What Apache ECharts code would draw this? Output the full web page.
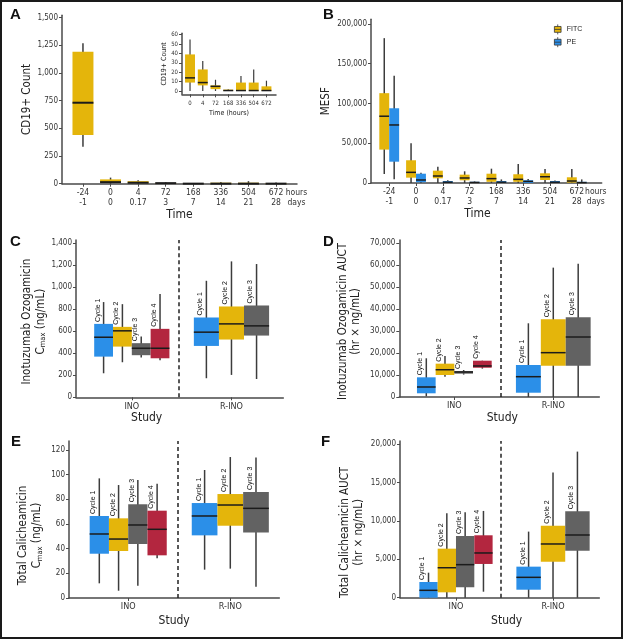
<!DOCTYPE html>
<html><head><meta charset="utf-8">
<script src="https://cdn.jsdelivr.net/npm/echarts@6/dist/echarts.min.js"></script>
<style>html,body{margin:0;padding:0;background:#fff}#c{width:623px;height:639px}</style>
</head><body><div id="c"></div>
<script>
// ---------------- DATA ----------------
// box summaries are [min, q1, median, q3, max]
const timeHours = ['-24','0','4','72','168','336','504','672'];
const timeDays  = ['-1','0','0.17','3','7','14','21','28'];
const unitLabel = 'hours\ndays';
const cd19Count = [[334,440,731,1191,1267],[0,9,14,39,55],[0,6,9,23,32],[0,2,5,6,12],[0,0,0.5,1.5,2],[0,0,0.5,9,16],[0,0,0.5,9,23],[0,0,0.5,5,11]];
const insetHours = ['0','4','72','168','336','504','672'];
const insetCount = [[0,9,14,39,55],[0,6,9,23,32],[0,2,5,6,12],[0,0,0.5,1.5,2],[0,0,0.5,9,16],[0,0,0.5,9,23],[0,0,0.5,5,11]];
const mesfFITC = [[11300,42000,84000,113000,182200],[0,6700,13400,28600,50000],[0,5900,8800,15500,20500],[0,3400,6300,10500,14700],[0,1500,5500,11700,18000],[0,1500,4600,11000,23900],[0,3800,7900,12200,17600],[0,500,2500,7200,17600]];
const mesfPE   = [[4600,26800,73000,94000,134800],[0,1000,3800,11700,13000],[0,0,1000,2500,3500],[0,0,700,1500,2000],[0,0,1000,2500,4500],[0,0,2000,3500,5000],[0,0,1000,2500,3000],[0,0,500,1500,4500]];
const studies = ['INO','R-INO'];
const cycleNames = ['Cycle 1','Cycle 2','Cycle 3','Cycle 4'];
const inoCmaxINO  = [[218,369,545,666,864],[318,460,603,639,845],[360,382,445,491,551],[336,354,445,621,936]];
const inoCmaxRINO = [[173,466,591,724,1057],[203,524,666,824,1233],[166,560,648,833,1209]];
const inoAucINO   = [[300,1680,4550,8950,17600],[9200,10000,12400,15150,18600],[10200,10600,11360,11800,12270],[12900,13300,14100,16500,16500]];
const inoAucRINO  = [[0,1950,9230,14550,33500],[0,14230,20150,35300,58800],[0,14230,27270,36200,60600]];
const calCmaxINO  = [[11.9,35.9,51.9,66.5,97],[5.9,38.1,47.8,64.6,91.6],[10,43.8,59.2,76,95.7],[32.2,34.6,55.7,70.8,92.7]];
const calCmaxRINO = [[23,50.8,66.5,77,103.8],[23.8,58.6,75.4,84.3,114.3],[9.2,53.2,72.7,85.9,114]];
const calAucINO   = [[0,0,960,2045,3255],[0,700,3900,6380,10990],[0,1350,4300,8030,11120],[780,4390,5820,8120,11290]];
const calAucRINO  = [[0,1040,2650,4040,8600],[0,4690,6990,9375,16280],[0,6120,8160,11250,19010]];
const ticksA = [0,250,500,750,1000,1250,1500];
const ticksInset = [0,10,20,30,40,50,60];
const ticksB = [0,50000,100000,150000,200000];
const ticksC = [0,200,400,600,800,1000,1200,1400];
const ticksD = [0,10000,20000,30000,40000,50000,60000,70000];
const ticksE = [0,20,40,60,80,100,120];
const ticksF = [0,5000,10000,15000,20000];

// ---------------- STYLE ----------------
const FONT = '"DejaVu Sans Condensed","Liberation Sans Narrow",sans-serif';
const FONT_R = '"Liberation Sans",Arial,sans-serif';
const AX = '#4a4a4a', TXT = '#333';
const GOLD = '#E4B50B', BLUE = '#2B8FE8', GRAY = '#626262', RED = '#B3263F';
const cycleColors = [BLUE, GOLD, GRAY, RED];
const GW = 0.755;
const NAME_FS = 11.5;

function fmt(v){ return Number(v).toLocaleString('en-US'); }

function makeRender(colors, opt){
  return function(params, api){
    const xc = api.value(0), bw = api.value(1);
    const x0 = xc - bw/2, x1 = xc + bw/2;
    const pMax = api.coord([xc, api.value(6)]), pMin = api.coord([xc, api.value(2)]);
    const pQ3 = api.coord([x0, api.value(5)]), pQ1 = api.coord([x1, api.value(3)]);
    const m0 = api.coord([x0, api.value(4)]), m1 = api.coord([x1, api.value(4)]);
    const ci = api.value(7), li = api.value(8);
    const ch = [
      {type:'line', shape:{x1:pMax[0], y1:pMax[1], x2:pMin[0], y2:pMin[1]}, style:{stroke:'#3c3c3c', lineWidth:opt.wl}},
      {type:'rect', shape:{x:pQ3[0], y:pQ3[1], width:pQ1[0]-pQ3[0], height:Math.max(pQ1[1]-pQ3[1],0)}, style:{fill:colors[ci]}},
      {type:'line', shape:{x1:m0[0], y1:m0[1], x2:m1[0], y2:m1[1]}, style:{stroke:'#1b1b1b', lineWidth:opt.ml}}
    ];
    if (li >= 0) {
      ch.push({type:'text', x:pMax[0]-6, y:pQ3[1]-2, rotation:Math.PI/2,
        style:{text:cycleNames[li], fontSize:7, fontFamily:FONT_R, fill:'#111', align:'left', verticalAlign:'middle'}});
    }
    return {type:'group', children:ch};
  };
}

function simpleData(arr, bw, off, ci){
  return arr.map((s,i)=>[i+off, bw, s[0], s[1], s[2], s[3], s[4], ci, -1]);
}
function groupedData(groups){
  const out = [];
  groups.forEach((arr,g)=>{
    const n = arr.length, bw = GW/n;
    arr.forEach((s,c)=>out.push([g - GW/2 + (c+0.5)*bw, bw, s[0], s[1], s[2], s[3], s[4], c, c]));
  });
  return out;
}

function series(name, idx, data, colors, opt, extra){
  return Object.assign({
    type:'custom', name:name, xAxisIndex:idx, yAxisIndex:idx, data:data,
    encode:{x:0, y:[2,3,4,5,6]}, renderItem:makeRender(colors, opt),
    itemStyle:{color:colors[0]}, animation:false, silent:true
  }, extra||{});
}

function divider(v){
  return {markLine:{symbol:'none', silent:true, animation:false, label:{show:false},
    lineStyle:{type:[4,3], color:'#222', width:1.5}, data:[{xAxis:v}]}};
}

const axLine = {show:true, onZero:false, lineStyle:{color:AX, width:1.5}};
function yAx(gi, max, ticks, name, gap, nameStyle, min, fs){
  return {type:'value', gridIndex:gi, min:(min||0), max:max, splitLine:{show:false},
    axisLine:axLine, axisTick:{show:true, length:3, customValues:ticks, lineStyle:{color:AX, width:1}},
    axisLabel:{customValues:ticks, formatter:fmt, fontSize:(fs||8), color:TXT, fontFamily:FONT, margin:4},
    name:name, nameLocation:'middle', nameGap:gap, nameTextStyle:Object.assign({fontFamily:FONT, fontSize:NAME_FS, color:'#222'}, nameStyle||{})};
}
function xAx(gi, min, max, tickVals, labelVals, formatter, name, gap, nameStyle, fs){
  return {type:'value', gridIndex:gi, min:min, max:max, splitLine:{show:false},
    axisLine:axLine, axisTick:{show:true, length:3, customValues:tickVals, lineStyle:{color:AX, width:1}},
    axisLabel:{customValues:labelVals, formatter:formatter, fontSize:(fs||8.5), lineHeight:10, color:TXT, fontFamily:FONT, margin:4},
    name:name, nameLocation:'middle', nameGap:gap, nameTextStyle:Object.assign({fontFamily:FONT, fontSize:NAME_FS+0.5, color:'#222'}, nameStyle||{})};
}

const timeFmt = v => (v > 7.3 ? unitLabel : timeHours[Math.round(v)] + '\n' + timeDays[Math.round(v)]);
const studyFmt = v => studies[Math.round(v)];
const idx8 = [0,1,2,3,4,5,6,7];
const rich2 = (fs)=>({a:{fontFamily:FONT, fontSize:fs, color:'#222', lineHeight:13.7}, s:{fontFamily:FONT, fontSize:7.5, color:'#222', lineHeight:13.7, verticalAlign:'bottom'}});

const option = {
  animation:false,
  grid:[
    {left:62, top:15.2, width:235, height:168.5},
    {left:182, top:33.3, width:94, height:61},
    {left:371, top:19.3, width:230.7, height:163.7},
    {left:76, top:240, width:207.3, height:157.3},
    {left:399.3, top:240, width:200, height:157},
    {left:69, top:441, width:210.3, height:157},
    {left:400, top:441, width:199.3, height:156.7}
  ],
  xAxis:[
    xAx(0, -0.76, 7.76, idx8, idx8.concat([7.74]), timeFmt, 'Time', 22.5),
    xAx(1, -0.63, 6.75, [0,1,2,3,4,5,6], [0,1,2,3,4,5,6], v=>insetHours[Math.round(v)], 'Time (hours)', 12, {fontSize:7}, 6),
    xAx(2, -0.68, 7.93, idx8, idx8.concat([7.71]), timeFmt, 'Time', 23, {padding:[0,18,0,0]}),
    xAx(3, -0.56, 1.52, [0,1], [0,1], studyFmt, 'Study', 12, {padding:[0,66,0,0]}, 9),
    xAx(4, -0.556, 1.465, [0,1], [0,1], studyFmt, 'Study', 11, {padding:[0,0,0,6]}, 9),
    xAx(5, -0.58, 1.48, [0,1], [0,1], studyFmt, 'Study', 17, {}, 9),
    xAx(6, -0.577, 1.477, [0,1], [0,1], studyFmt, 'Study', 17, {padding:[0,0,0,14]}, 9)
  ],
  yAxis:[
    yAx(0, 1521, ticksA, 'CD19+ Count', 27),
    yAx(1, 61.5, ticksInset, 'CD19+ Count', 12, {fontSize:7}, -3.5, 6),
    yAx(2, 205900, ticksB, 'MESF', 39),
    yAx(3, 1427, ticksC, '{a|Inotuzumab Ozogamicin}\n{a|C}{s|max}{a| (ng/mL)}', 26, {rich:rich2(NAME_FS), padding:[0,6,0,0]}),
    yAx(4, 71364, ticksD, '{a|Inotuzumab Ozogamicin AUCT}\n{a|(hr × ng/mL)}', 36, {rich:rich2(NAME_FS), padding:[0,6,0,0]}),
    yAx(5, 127.3, ticksE, '{a|Total Calicheamicin}\n{a|C}{s|max}{a| (ng/mL)}', 25, {rich:rich2(NAME_FS), padding:[0,32,0,0]}),
    yAx(6, 20390, ticksF, '{a|Total Calicheamicin AUCT}\n{a|(hr × ng/mL)}', 34, {rich:rich2(NAME_FS), padding:[0,26,0,0]})
  ],
  legend:{left:554, top:24, padding:0, orient:'vertical', itemWidth:8, itemHeight:10, itemGap:2,
    icon:'path://M4,0V2.5M4,9.5V12M0,2.5H8V9.5H0ZM0,6H8',
    itemStyle:{borderColor:'#333', borderWidth:0.8},
    textStyle:{fontFamily:FONT_R, fontSize:7, color:'#222'}, data:['FITC','PE']},
  series:[
    series('A', 0, simpleData(cd19Count, 0.76, 0, 0), [GOLD], {wl:1.5, ml:2}),
    series('inset', 1, simpleData(insetCount, 0.78, 0, 0), [GOLD], {wl:1.2, ml:1.5}),
    series('FITC', 2, simpleData(mesfFITC, 0.37, -0.185, 0), [GOLD], {wl:1.5, ml:1.5}),
    series('PE', 2, simpleData(mesfPE, 0.37, 0.185, 0), [BLUE], {wl:1.5, ml:1.5}),
    series('C', 3, groupedData([inoCmaxINO, inoCmaxRINO]), cycleColors, {wl:1.5, ml:1.5}, divider(0.467)),
    series('D', 4, groupedData([inoAucINO, inoAucRINO]), cycleColors, {wl:1.5, ml:1.5}, divider(0.475)),
    series('E', 5, groupedData([calCmaxINO, calCmaxRINO]), cycleColors, {wl:1.5, ml:1.5}, divider(0.49)),
    series('F', 6, groupedData([calAucINO, calAucRINO]), cycleColors, {wl:1.5, ml:1.5}, divider(0.464))
  ],
  graphic:[
    {type:'rect', shape:{x:1, y:1, width:621, height:637}, style:{fill:null, stroke:'#1a1a1a', lineWidth:2}, silent:true},
    {type:'text', left:10, top:7, style:{text:'A', fontFamily:FONT_R, fontWeight:'bold', fontSize:15, fill:'#111'}},
    {type:'text', left:323, top:7, style:{text:'B', fontFamily:FONT_R, fontWeight:'bold', fontSize:15, fill:'#111'}},
    {type:'text', left:10, top:234, style:{text:'C', fontFamily:FONT_R, fontWeight:'bold', fontSize:15, fill:'#111'}},
    {type:'text', left:323, top:234, style:{text:'D', fontFamily:FONT_R, fontWeight:'bold', fontSize:15, fill:'#111'}},
    {type:'text', left:11, top:434, style:{text:'E', fontFamily:FONT_R, fontWeight:'bold', fontSize:15, fill:'#111'}},
    {type:'text', left:321, top:434, style:{text:'F', fontFamily:FONT_R, fontWeight:'bold', fontSize:15, fill:'#111'}}
  ]
};
const chart = echarts.init(document.getElementById('c'), null, {renderer:'canvas'});
chart.setOption(option);
</script></body></html>
